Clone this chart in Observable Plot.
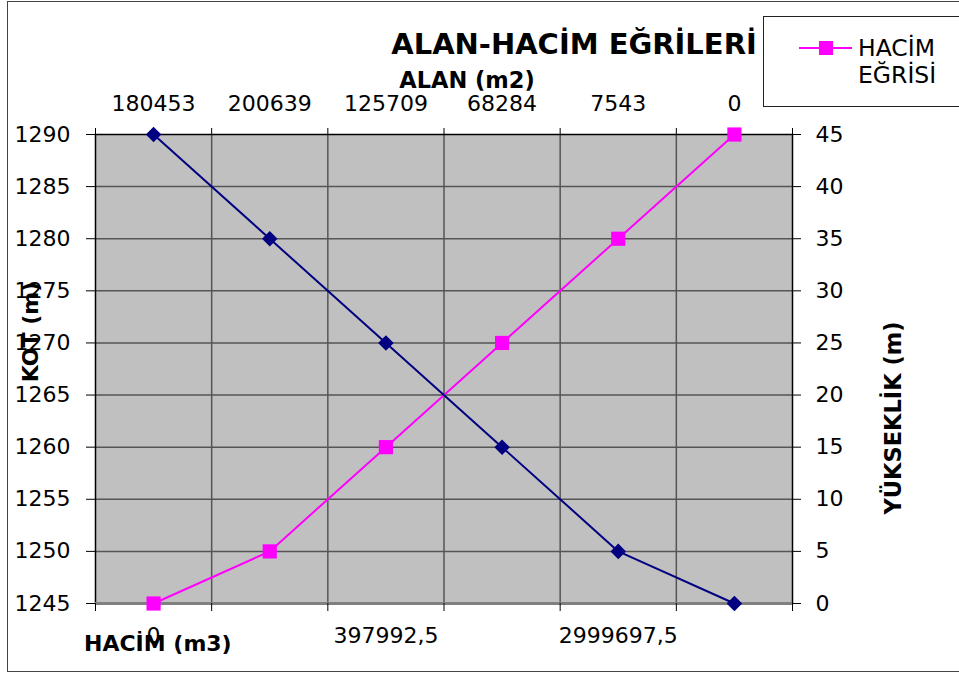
<!DOCTYPE html>
<html><head><meta charset="utf-8">
<script src="https://cdn.jsdelivr.net/npm/d3@7"></script>
<script src="https://cdn.jsdelivr.net/npm/@observablehq/plot@0.6"></script>
<style>
html,body{margin:0;padding:0;background:#fff;overflow:hidden;}
#wrap{position:relative;width:959px;height:673px;font-family:"DejaVu Sans",sans-serif;}
#wrap svg{position:absolute;left:0;top:0;}
.t{position:absolute;white-space:nowrap;line-height:1;color:#000;}
.b{font-weight:bold;}
</style></head><body>
<div id="wrap"></div>
<script>
// ---- data ----
const kategori = [0, 1, 2, 3, 4, 5];
const alan = [180453, 200639, 125709, 68284, 7543, 0];          // ALAN (m2), top labels
const kot = [1290, 1280, 1270, 1260, 1250, 1245];                 // KOT (m), navy series
const yukseklik = [0, 5, 15, 25, 35, 45];                         // YÜKSEKLİK (m), magenta series
const hacimKonum = [0, 2, 4];                                     // shown HACİM labels
const hacimEtiket = ["0", "397992,5", "2999697,5"];
const kotTicks = [1245, 1250, 1255, 1260, 1265, 1270, 1275, 1280, 1285, 1290];
const yukTicks = [0, 5, 10, 15, 20, 25, 30, 35, 40, 45];
const taban = 1245; // KOT at YÜKSEKLİK 0

const sinir = kategori.map(i => i - 0.5).concat([kategori.length - 0.5]);

const plot = Plot.plot({
  width: 959, height: 673,
  marginLeft: 95, marginRight: 167, marginTop: 134, marginBottom: 70,
  style: {fontFamily: '"DejaVu Sans", sans-serif', fontSize: "22px", color: "black", background: "transparent", overflow: "visible"},
  x: {type: "linear", domain: [-0.5, kategori.length - 0.5], label: null},
  y: {domain: [d3.min(kotTicks), d3.max(kotTicks)], label: null},
  marks: [
    Plot.frame({fill: "#c0c0c0"}),
    Plot.gridX(sinir.slice(1, -1), {stroke: "#555", strokeOpacity: 1, strokeWidth: 1.5}),
    Plot.gridY(kotTicks.slice(1, -1), {stroke: "#555", strokeOpacity: 1, strokeWidth: 1.5}),
    Plot.frame({stroke: "black", strokeWidth: 1.5}),
    Plot.ruleY([d3.min(kotTicks)], {stroke: "#808080", strokeWidth: 3}),
    Plot.axisY(kotTicks, {anchor: "left", tickSize: 9, tickPadding: 16, label: null, tickFormat: d => String(d)}),
    Plot.axisY(yukTicks.map(v => v + taban), {anchor: "right", tickSize: 8, tickPadding: 15, label: null, tickFormat: d => String(d - taban)}),
    Plot.axisX(kategori, {anchor: "top", tickSize: 0, tickPadding: 24, label: null, tickFormat: i => String(alan[i])}),
    Plot.axisX(sinir, {anchor: "top", tickSize: 7, label: null, tickFormat: () => ""}),
    Plot.axisX(hacimKonum, {anchor: "bottom", tickSize: 0, tickPadding: 24, label: null, tickFormat: i => hacimEtiket[hacimKonum.indexOf(i)]}),
    Plot.axisX(sinir, {anchor: "bottom", tickSize: 8, label: null, tickFormat: () => ""}),
    Plot.line(kategori, {x: i => i, y: i => taban + yukseklik[i], stroke: "#ff00ff", strokeWidth: 2}),
    Plot.dot(kategori, {x: i => i, y: i => taban + yukseklik[i], symbol: "square", r: 8, fill: "#ff00ff"}),
    Plot.line(kategori, {x: i => i, y: i => kot[i], stroke: "#000080", strokeWidth: 2}),
    Plot.dot(kategori, {x: i => i, y: i => kot[i], symbol: "diamond2", r: 7, fill: "#000080"})
  ]
});

const wrap = document.getElementById("wrap");
wrap.appendChild(plot);

// outer chart border
const border = document.createElement("div");
border.style.cssText = "position:absolute;left:7px;top:1px;width:960px;height:669px;border:1.5px solid #444;border-right:none;";
wrap.appendChild(border);

function addText(txt, css, cls) {
  const d = document.createElement("div");
  d.className = "t " + (cls || "");
  d.textContent = txt;
  d.style.cssText += css;
  wrap.appendChild(d);
  return d;
}
// baseline ≈ top + 0.846 * fontSize (DejaVu Sans, line-height 1)
addText("ALAN-HACİM EĞRİLERİ", "left:274px;width:600px;text-align:center;top:30px;font-size:29px;", "b");
addText("ALAN (m2)", "left:317px;width:300px;text-align:center;top:69px;font-size:22.5px;", "b");
addText("HACİM (m3)", "left:84px;top:633px;font-size:22px;", "b");
addText("KOT (m)", "left:31px;top:332px;font-size:22px;transform:translate(-50%,-50%) rotate(-90deg);", "b");
addText("YÜKSEKLİK (m)", "left:893px;top:418px;font-size:22.5px;transform:translate(-50%,-50%) rotate(-90deg);", "b");

// legend
const lg = document.createElement("div");
lg.style.cssText = "position:absolute;left:763px;top:16px;width:200px;height:89px;border:1.5px solid #222;border-right:none;background:#fff;";
wrap.appendChild(lg);
const ls = d3.create("svg").attr("width", 60).attr("height", 20)
  .style("position", "absolute").style("left", "797px").style("top", "38px");
ls.append("line").attr("x1", 2).attr("x2", 55).attr("y1", 10).attr("y2", 10).attr("stroke", "#ff00ff").attr("stroke-width", 2);
ls.append("rect").attr("x", 22).attr("y", 3).attr("width", 14).attr("height", 14).attr("fill", "#ff00ff");
wrap.appendChild(ls.node());
addText("HACİM", "left:858px;top:37px;font-size:23.5px;");
addText("EĞRİSİ", "left:858px;top:64px;font-size:23.5px;");
</script>
</body></html>
